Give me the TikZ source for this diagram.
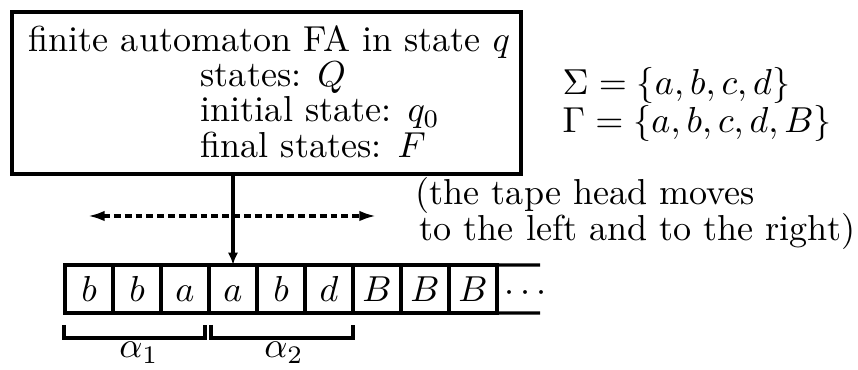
\documentclass[tikz,border=0pt]{standalone}
\usetikzlibrary{arrows.meta}
\begin{document}
\begin{tikzpicture}[x=0.277pt,y=-0.277pt,
  boxline/.style={draw,line width=1.1pt,inner sep=0pt,outer sep=0pt},
  cell/.style={draw,line width=0.85pt,minimum width=13.3pt,minimum height=13.3pt,inner sep=0pt,outer sep=0pt,text height=7pt,text depth=0pt},
  tapeline/.style={line width=0.85pt},
  headarrow/.style={line width=1.1pt,-{Latex[length=3.4pt,width=2.8pt]}},
  movearrow/.style={line width=0.85pt,dash pattern=on 1.9pt off 1.1pt,{Latex[length=4.6pt,width=2.9pt]}-{Latex[length=4.6pt,width=2.9pt]}},
  bracket/.style={line width=0.85pt},
  lbl/.style={anchor=base west,inner sep=0pt}]
\useasboundingbox (0,0) rectangle (858,370);
% finite automaton box
\node[boxline,minimum width=141pt,minimum height=44.9pt] (fa) at (266.5,93) {};
\node[lbl] (t1) at (28,52) {finite automaton FA in state $q$};
\node[lbl] (t2) at (200,87) {states: $Q$};
\node[lbl] (t3) at (200,122) {initial state: $q_0$};
\node[lbl] (t4) at (200,158) {final states: $F$};
% alphabets
\node[lbl] (sig) at (562,95) {$\Sigma = \{a,b,c,d\}$};
\node[lbl] (gam) at (562,133) {$\Gamma = \{a,b,c,d,B\}$};
% tape
\node[cell] (c1) at (89,289) {$b$};
\node[cell] (c2) at (137,289) {$b$};
\node[cell] (c3) at (185,289) {$a$};
\node[cell] (c4) at (233,289) {$a$};
\node[cell] (c5) at (281,289) {$b$};
\node[cell] (c6) at (329,289) {$d$};
\node[cell] (c7) at (377,289) {$B$};
\node[cell] (c8) at (425,289) {$B$};
\node[cell] (c9) at (473,289) {$B$};
\node[anchor=base,inner sep=0pt] (dots) at (526,301.6) {$\cdots$};
\coordinate (tt) at (540,265);
\coordinate (tb) at (540,313);
\draw[tapeline] (c9.north east) -- (tt);
\draw[tapeline] (c9.south east) -- (tb);
% head
\draw[headarrow] (fa.south -| c4.north) -- (c4.north);
% movement
\coordinate (ml) at (88,216);
\coordinate (mr) at (376,216);
\draw[movearrow] (ml) -- (mr);
\node[lbl] (h1) at (415,205) {(the tape head moves};
\node[lbl] (h2) at (419,241) {to the left and to the right)};
% brackets
\coordinate (b1l) at (64,325);
\coordinate (b1r) at (205,325);
\coordinate (b2l) at (211,325);
\coordinate (b2r) at (353,325);
\coordinate (bl) at (0,338);
\draw[bracket] (b1l) -- (b1l |- bl) -- (b1r |- bl) -- (b1r);
\draw[bracket] (b2l) -- (b2l |- bl) -- (b2r |- bl) -- (b2r);
\node[anchor=base,inner sep=0pt] (a1) at (139,358) {$\alpha_1$};
\node[anchor=base,inner sep=0pt] (a2) at (284,358) {$\alpha_2$};
\end{tikzpicture}
\end{document}
